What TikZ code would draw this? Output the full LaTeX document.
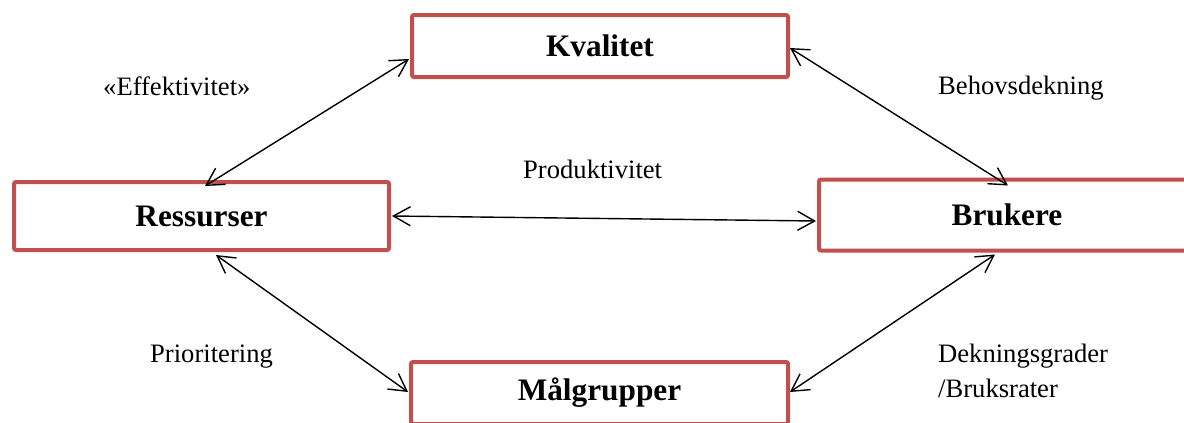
\documentclass[tikz,border=0pt]{standalone}
\usepackage{fontspec}
\setmainfont{Liberation Serif}
\usetikzlibrary{arrows.meta,calc}
\begin{document}
\begin{tikzpicture}[x=1pt,y=-1pt,
  box/.style={draw=boxred,line width=4pt,rounded corners=2pt,fill=white,inner sep=0pt,
    font=\fontsize{31.3}{36}\selectfont\bfseries},
  lbl/.style={inner sep=0pt,anchor=base west,font=\fontsize{26.6}{35}\selectfont},
  link/.style={line width=1.4pt,{Straight Barb[length=17pt,width=19pt]}-{Straight Barb[length=17pt,width=19pt]}}]
\definecolor{boxred}{RGB}{192,80,77}
\useasboundingbox (0,0) rectangle (1184,423);
\node[box,minimum width=376pt,minimum height=62pt] (kval) at (600,46) {Kvalitet};
\node[box,minimum width=375pt,minimum height=68pt] (res) at (201.5,216) {Ressurser};
\node[box,minimum width=376pt,minimum height=71pt] (bru) at (1007,215) {Brukere};
\node[box,minimum width=377pt,minimum height=62pt] (mal) at (599.5,393) {Målgrupper};
\node[lbl] (eff) at (103,95) {«Effektivitet»};
\node[lbl] (beh) at (938,94) {Behovsdekning};
\node[lbl] (prod) at (523,178) {Produktivitet};
\node[lbl] (prio) at (150,362) {Prioritering};
\node[lbl,align=left] (dek) at (938,397) {Dekningsgrader\\/Bruksrater};
\draw[link] ($(res.north west)+(193,6)$) -- ($(kval.west)+(-1,13)$);
\draw[link] ($(kval.east)+(0,2)$) -- ($(bru.north west)+(191,8)$);
\draw[link] ($(res.east)+(1,0)$) -- ($(bru.west)+(-1,6)$);
\draw[link] ($(res.south west)+(204,3)$) -- ($(mal.west)+(-1,-1)$);
\draw[link] ($(bru.south west)+(178,2)$) -- ($(mal.east)+(0,-1)$);
\end{tikzpicture}
\end{document}
